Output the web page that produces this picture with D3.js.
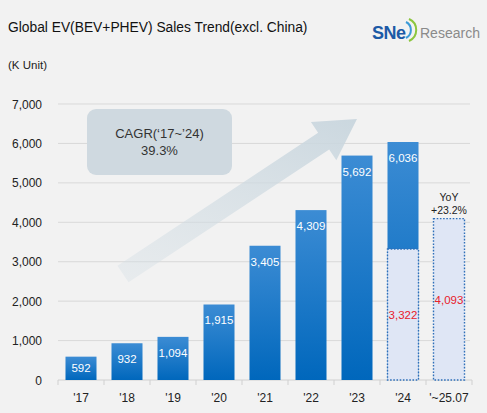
<!DOCTYPE html>
<html lang="en">
<head>
<meta charset="UTF-8">
<title>Global EV Sales Trend (excl. China)</title>
<script src="https://cdn.jsdelivr.net/npm/d3@7"></script>
<style>
  html, body { margin: 0; padding: 0; background: #f2f2f2; }
  svg { display: block; font-family: "Liberation Sans", Arial, sans-serif; }
</style>
</head>
<body>
<div id="chart"></div>
<script>
// data (K units)
const categories = ["'17", "'18", "'19", "'20", "'21", "'22", "'23", "'24", "'~25.07"];
const annualSales = [592, 932, 1094, 1915, 3405, 4309, 5692, 6036];
const ytdCategories = ["'24", "'~25.07"];
const ytdSales = [3322, 4093];
const yTicks = [0, 1000, 2000, 3000, 4000, 5000, 6000, 7000];

const W = 487, H = 413;
const svg = d3.select("#chart").append("svg").attr("width", W).attr("height", H);

svg.append("rect").attr("width", W).attr("height", H).attr("fill", "#f2f2f2");

const x = d3.scaleBand().domain(categories).range([58, 472])
    .paddingInner(0.326).paddingOuter(0.163);
const y = d3.scaleLinear().domain([0, 7000]).range([380, 104]);

const defs = svg.append("defs");
const grad = defs.append("linearGradient").attr("id", "barGrad")
    .attr("x1", 0).attr("y1", 0).attr("x2", 0).attr("y2", 1);
grad.append("stop").attr("offset", "0%").attr("stop-color", "#3c8cd4");
grad.append("stop").attr("offset", "100%").attr("stop-color", "#0067bc");

const arrowGrad = defs.append("linearGradient").attr("id", "arrowGrad")
    .attr("gradientUnits", "userSpaceOnUse")
    .attr("x1", 123).attr("y1", 274).attr("x2", 357).attr("y2", 119);
arrowGrad.append("stop").attr("offset", "0%").attr("stop-color", "#d6e0e6").attr("stop-opacity", 0.25);
arrowGrad.append("stop").attr("offset", "100%").attr("stop-color", "#c9d6de").attr("stop-opacity", 0.95);

// title + unit
svg.append("text").attr("x", 8).attr("y", 32).attr("font-size", 13.8).attr("fill", "#111")
    .text("Global EV(BEV+PHEV) Sales Trend(excl. China)");
svg.append("text").attr("x", 8).attr("y", 69).attr("font-size", 11.5).attr("fill", "#222")
    .text("(K Unit)");

// logo
const logo = svg.append("g");
logo.append("text").attr("x", 372).attr("y", 39).attr("font-size", 18).attr("font-weight", "bold")
    .attr("fill", "#1c5aa6").attr("letter-spacing", -0.5).text("SNe");
logo.append("path").attr("d", "M406,22 A9,9 0 0 1 406,38").attr("fill", "none")
    .attr("stroke", "#3b9bd8").attr("stroke-width", 2);
logo.append("path").attr("d", "M409,19 A12,12 0 0 1 409,41").attr("fill", "none")
    .attr("stroke", "#8cc63f").attr("stroke-width", 2);
logo.append("text").attr("x", 420).attr("y", 38).attr("font-size", 14)
    .attr("fill", "#8a8a8a").text("Research");

// gridlines
svg.append("g").selectAll("line").data(yTicks.slice(1)).join("line")
    .attr("x1", 58).attr("x2", 470)
    .attr("y1", d => y(d)).attr("y2", d => y(d))
    .attr("stroke", "#d9d9d9").attr("stroke-width", 1);

// y labels
svg.append("g").selectAll("text").data(yTicks).join("text")
    .attr("x", 42).attr("y", d => y(d) + 4.5)
    .attr("text-anchor", "end").attr("font-size", 12).attr("fill", "#222")
    .text(d => d3.format(",")(d));

// trend arrow
const ax0 = 123, ay0 = 274, ax1 = 357, ay1 = 119;
const ang = Math.atan2(ay1 - ay0, ax1 - ax0);
const len = Math.hypot(ax1 - ax0, ay1 - ay0);
const shaft = 10, head = 23, headLen = 40;
const arrowPts = [
  [0, -shaft], [len - headLen, -shaft], [len - headLen, -head], [len, 0],
  [len - headLen, head], [len - headLen, shaft], [0, shaft]
];
svg.append("polygon")
    .attr("points", arrowPts.map(p => p.join(",")).join(" "))
    .attr("transform", `translate(${ax0},${ay0}) rotate(${ang * 180 / Math.PI})`)
    .attr("fill", "url(#arrowGrad)");

// CAGR box
svg.append("rect").attr("x", 87).attr("y", 109).attr("width", 145).attr("height", 66)
    .attr("rx", 9).attr("fill", "#cfd9e0");
svg.append("text").attr("x", 159.5).attr("y", 138).attr("text-anchor", "middle")
    .attr("font-size", 13).attr("fill", "#333").text("CAGR(\u201817~\u201924)");
svg.append("text").attr("x", 159.5).attr("y", 155).attr("text-anchor", "middle")
    .attr("font-size", 13).attr("fill", "#333").text("39.3%");

// baseline + ticks
svg.append("line").attr("x1", 58).attr("x2", 472).attr("y1", 380).attr("y2", 380)
    .attr("stroke", "#d0d0d0");
svg.append("g").selectAll("line").data(d3.range(categories.length + 1)).join("line")
    .attr("x1", i => 58 + i * x.step()).attr("x2", i => 58 + i * x.step())
    .attr("y1", 380).attr("y2", 385).attr("stroke", "#d0d0d0");

// annual bars
const bars = annualSales.map((v, i) => ({ cat: categories[i], v }));
svg.append("g").selectAll("rect").data(bars).join("rect")
    .attr("x", d => x(d.cat)).attr("width", x.bandwidth())
    .attr("y", d => y(d.v)).attr("height", d => y(0) - y(d.v))
    .attr("fill", "url(#barGrad)");

// ytd dashed boxes
const ytd = ytdSales.map((v, i) => ({ cat: ytdCategories[i], v }));
svg.append("g").selectAll("rect").data(ytd).join("rect")
    .attr("x", d => x(d.cat)).attr("width", x.bandwidth())
    .attr("y", d => y(d.v)).attr("height", d => y(0) - y(d.v))
    .attr("fill", "#dfe6f5").attr("stroke", "#2e6fb9")
    .attr("stroke-width", 1.4).attr("stroke-dasharray", "1.6,1.6");

// value labels
svg.append("g").selectAll("text").data(bars).join("text")
    .attr("x", d => x(d.cat) + x.bandwidth() / 2)
    .attr("y", d => Math.min(y(d.v) + 20, (y(d.v) + y(0)) / 2 + 4))
    .attr("text-anchor", "middle").attr("font-size", 11.5).attr("fill", "#fff")
    .text(d => d3.format(",")(d.v));
svg.append("g").selectAll("text").data(ytd).join("text")
    .attr("x", d => x(d.cat) + x.bandwidth() / 2)
    .attr("y", d => (y(d.v) + y(0)) / 2 + 4.5)
    .attr("text-anchor", "middle").attr("font-size", 11.5).attr("fill", "#e8202a")
    .text(d => d3.format(",")(d.v));

// YoY note
const lastCat = categories[categories.length - 1];
const cx = x(lastCat) + x.bandwidth() / 2;
svg.append("text").attr("x", cx).attr("y", 201).attr("text-anchor", "middle")
    .attr("font-size", 10.5).attr("fill", "#222").text("YoY");
svg.append("text").attr("x", cx).attr("y", 214).attr("text-anchor", "middle")
    .attr("font-size", 10.5).attr("fill", "#222").text("+23.2%");

// x labels
svg.append("g").selectAll("text").data(categories).join("text")
    .attr("x", d => x(d) + x.bandwidth() / 2).attr("y", 402)
    .attr("text-anchor", "middle").attr("font-size", 12).attr("fill", "#222")
    .text(d => d);
</script>
</body>
</html>
